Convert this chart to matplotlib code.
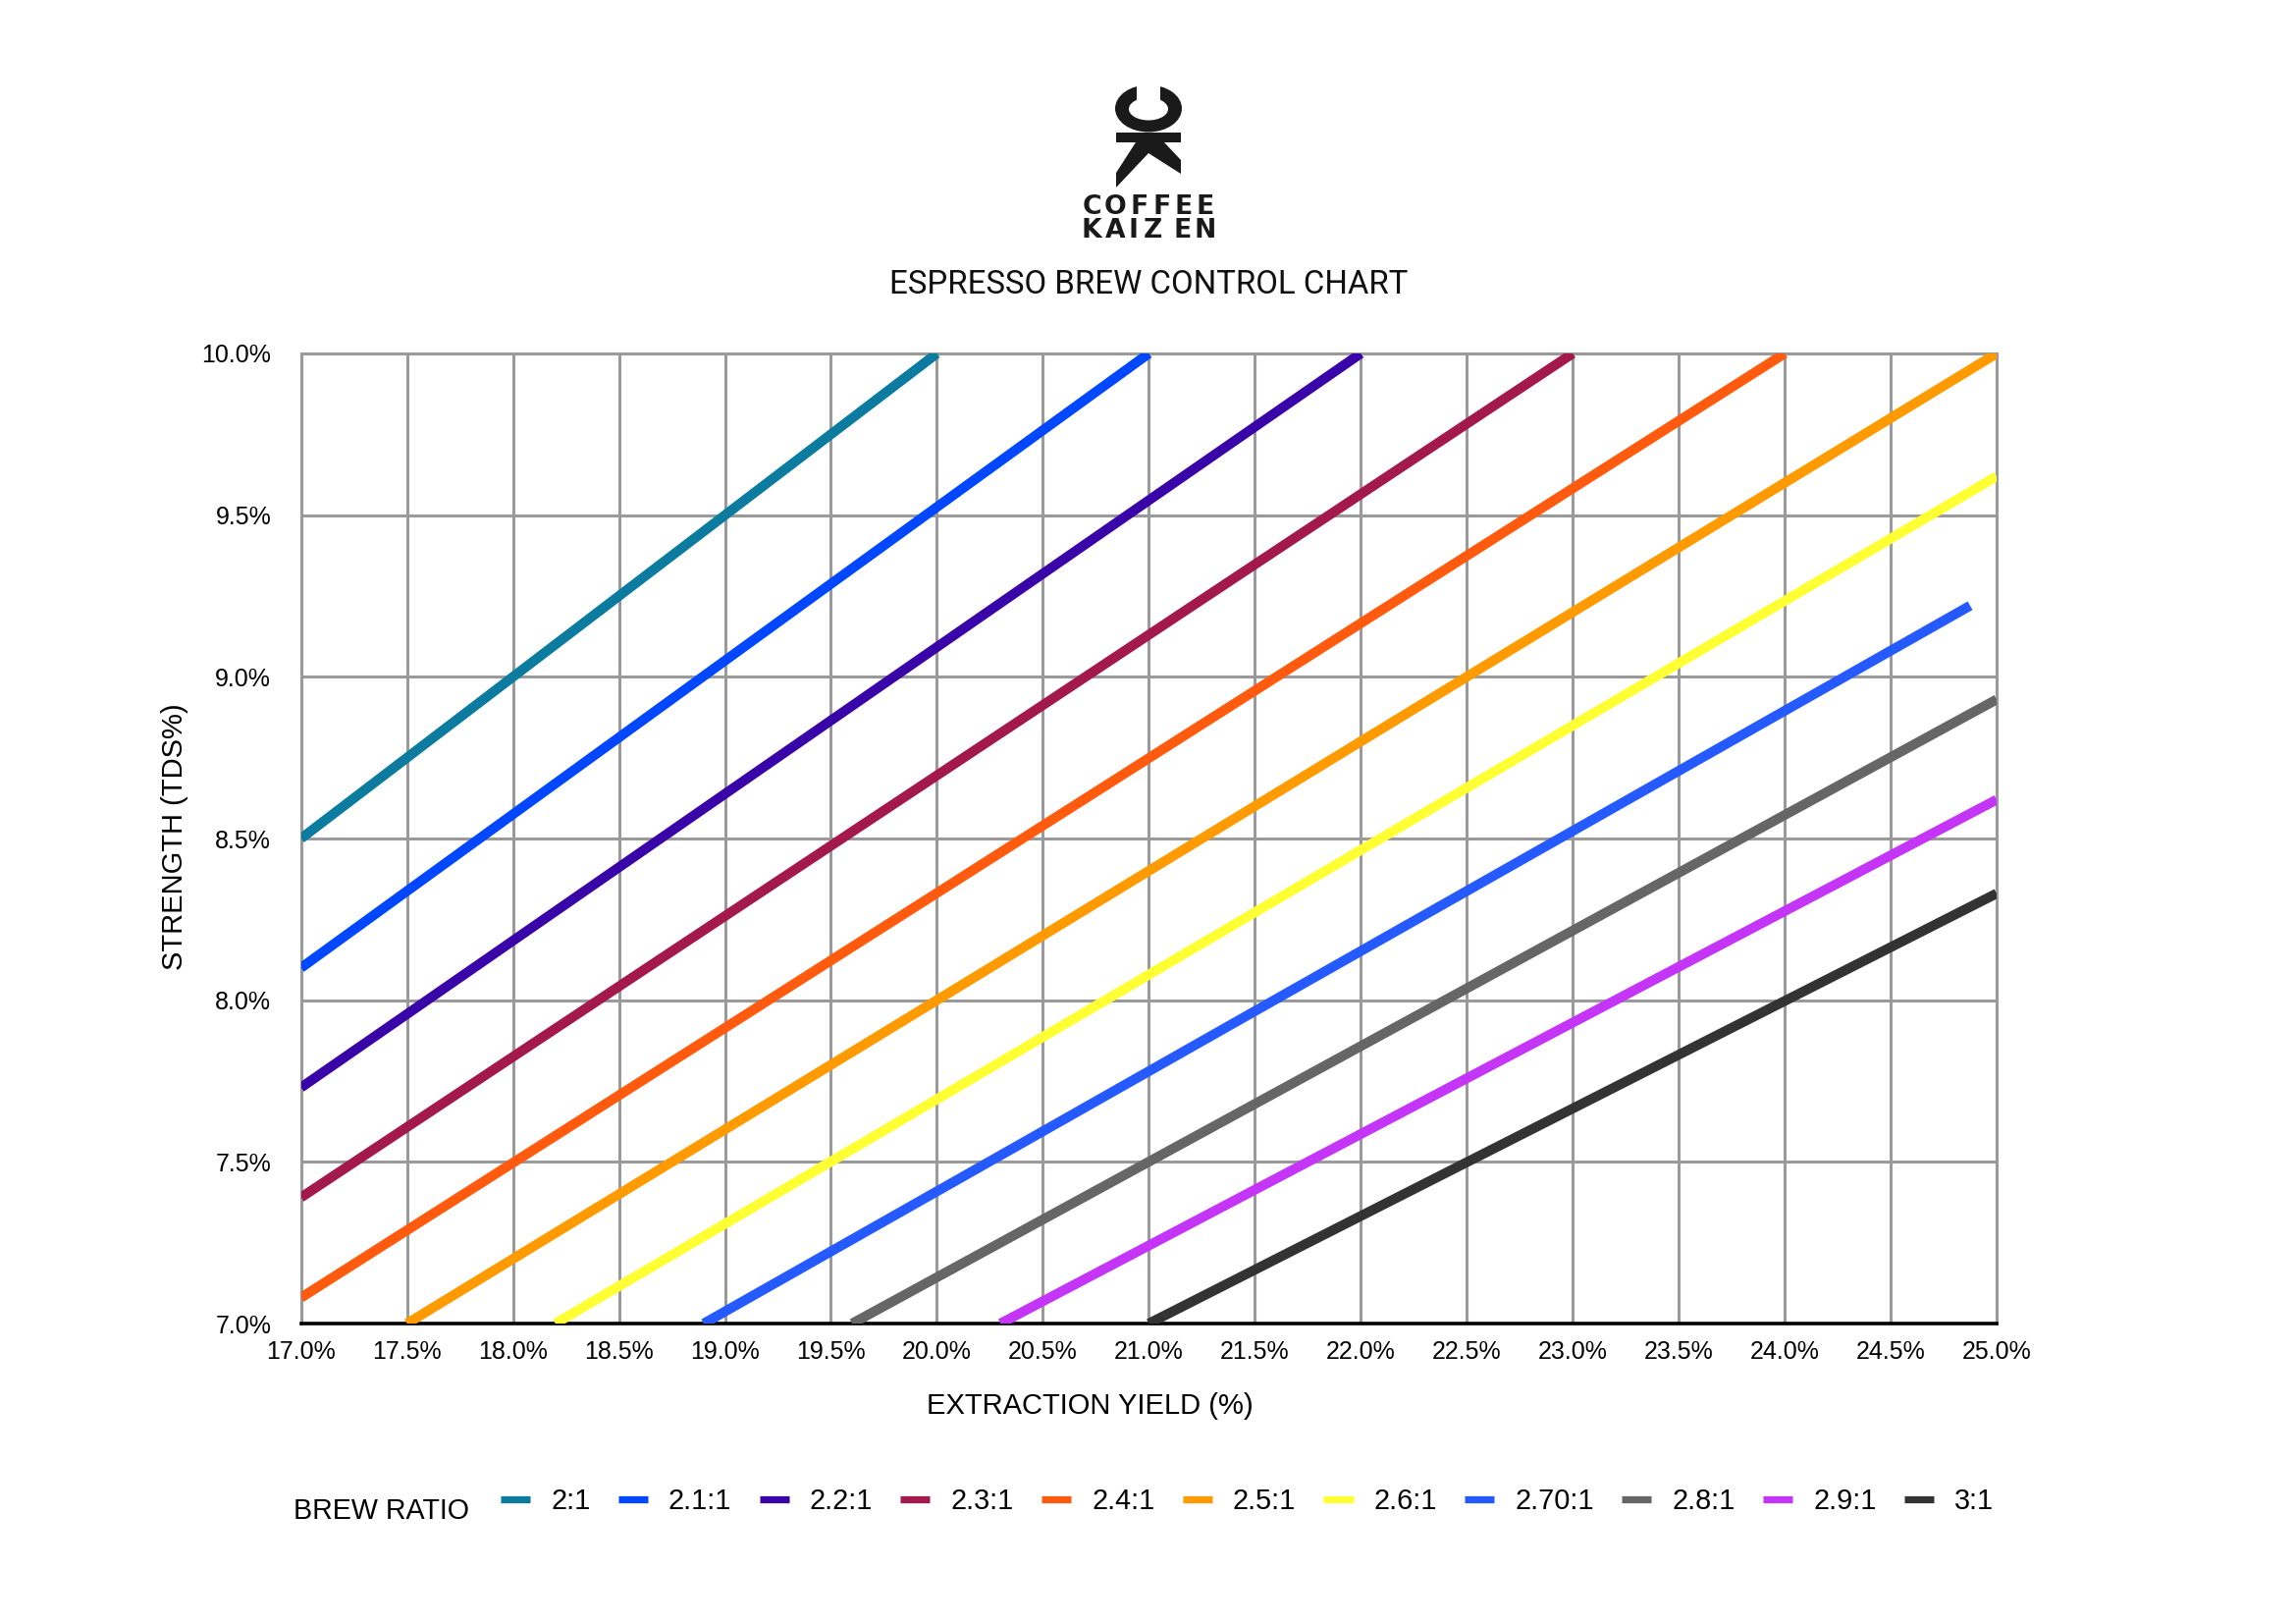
import numpy as np
import matplotlib
matplotlib.use("Agg")
import matplotlib.pyplot as plt
from matplotlib.lines import Line2D
from matplotlib.patches import Ellipse, Rectangle, Polygon

# ---- data ----
ratios = ["2:1", "2.1:1", "2.2:1", "2.3:1", "2.4:1", "2.5:1",
          "2.6:1", "2.70:1", "2.8:1", "2.9:1", "3:1"]
ey_start = [17.0, 17.0, 17.0, 17.0, 17.0, 17.5, 18.2, 18.9, 19.6, 20.3, 21.0]
tds_start = [8.50, 8.10, 7.73, 7.39, 7.08, 7.0, 7.0, 7.0, 7.0, 7.0, 7.0]
ey_end = [20.0, 21.0, 22.0, 23.0, 24.0, 25.0, 25.0, 24.875, 25.0, 25.0, 25.0]
tds_end = [10.0, 10.0, 10.0, 10.0, 10.0, 10.0, 9.62, 9.22, 8.93, 8.62, 8.33]
colors = ["#0b7b9f", "#0047ff", "#3a05a8", "#a3194b", "#ff5a0d", "#ff9a00",
          "#ffff33", "#245aff", "#666666", "#c535f8", "#333333"]

x_ticks = [17.0 + 0.5 * i for i in range(17)]
y_ticks = [7.0 + 0.5 * i for i in range(7)]

W, H = 2339, 1653
fig = plt.figure(figsize=(W / 200, H / 200), dpi=200)
fig.patch.set_facecolor("white")

# ---- logo / header, drawn in pixel coords ----
lg = fig.add_axes([0, 0, 1, 1])
lg.set_xlim(0, W)
lg.set_ylim(H, 0)
lg.axis("off")
lg.patch.set_alpha(0)

ink = "#1a1a1a"
lg.add_patch(Ellipse((1170, 110.5), 68, 48, color=ink, lw=0))
lg.add_patch(Ellipse((1170, 111), 40, 23, color="white", lw=0))
lg.add_patch(Rectangle((1158, 80), 24, 26, color="white", lw=0))
lg.add_patch(Rectangle((1137, 135), 66, 10, color=ink, lw=0))
lg.add_patch(Polygon([(1157, 145), (1186, 145), (1203, 163), (1203, 177),
                      (1170, 156), (1137, 191), (1137, 176)],
                     closed=True, color=ink, lw=0))

for ch, cx in zip("COFFEE", [1112, 1136, 1161, 1184, 1206, 1228]):
    lg.text(cx, 211, ch, ha="center", va="center", fontsize=9.6,
            fontweight="bold", family="DejaVu Sans", color=ink)
for ch, cx in zip("KAIZEN", [1112, 1136, 1155, 1174, 1205, 1228]):
    lg.text(cx, 235, ch, ha="center", va="center", fontsize=9.6,
            fontweight="bold", family="DejaVu Sans", color=ink)

lg.text(1170, 290, "ESPRESSO BREW CONTROL CHART", ha="center", va="center",
        fontsize=11.9, family="Roboto", fontweight="normal", color="#111111")

# ---- main chart ----
ax = fig.add_axes([306.7 / W, 1 - 1348 / H, (2034 - 306.7) / W, (1348 - 360) / H])
grid_c = "#9a9a9a"
for i in range(len(ratios)):
    ax.plot([ey_start[i], ey_end[i]], [tds_start[i], tds_end[i]],
            color=colors[i], lw=3.6, solid_capstyle="butt", zorder=3)

ax.set_xlim(17.0, 25.0)
ax.set_ylim(7.0, 10.0)
ax.set_xticks(x_ticks)
ax.set_yticks(y_ticks)
ax.set_xticklabels([f"{v:.1f}%" for v in x_ticks])
ax.set_yticklabels([f"{v:.1f}%" for v in y_ticks])
ax.grid(True, color=grid_c, lw=1.1, zorder=1)
ax.set_axisbelow(True)
for s in ["left", "top", "right"]:
    ax.spines[s].set_color(grid_c)
    ax.spines[s].set_linewidth(1.1)
ax.spines["bottom"].set_color("black")
ax.spines["bottom"].set_linewidth(1.3)
ax.tick_params(axis="both", length=0, labelsize=9, labelcolor="black")
ax.tick_params(axis="x", pad=6)
ax.tick_params(axis="y", pad=11)
for lab in ax.get_xticklabels() + ax.get_yticklabels():
    lab.set_family("Liberation Sans")

fig.text(1110 / W, 1 - 1432 / H, "EXTRACTION YIELD (%)", ha="center", va="center",
         fontsize=10.5, family="Liberation Sans")
fig.text(178 / W, 1 - 852 / H, "STRENGTH (TDS%)", ha="center", va="center",
         rotation=90, fontsize=10.5, family="Liberation Sans")

# ---- legend ----
fig.text(299 / W, 1 - 1547 / H, "BREW RATIO", ha="left", va="baseline",
         fontsize=10.3, family="Liberation Sans")
handles = [Line2D([0], [0], color=c, lw=2.6, solid_capstyle="butt") for c in colors]
fig.legend(handles, ratios, loc="center right",
           bbox_to_anchor=(2031 / W, 1 - 1529 / H), ncol=len(ratios),
           frameon=False, borderpad=0, borderaxespad=0,
           handlelength=1.04, handletextpad=0.73, columnspacing=0.98,
           prop={"family": "Liberation Sans", "size": 10.4})

fig.savefig("out.png", dpi=200, facecolor="white")
